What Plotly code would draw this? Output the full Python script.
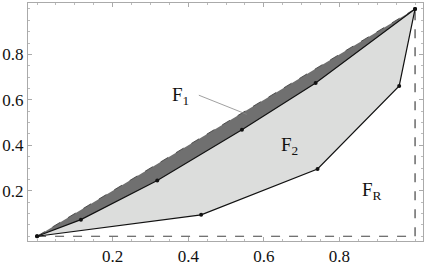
import plotly.graph_objects as go

# Data
mid_x = [0.0, 0.116, 0.318, 0.542, 0.737, 1.0]
mid_y = [0.0, 0.073, 0.245, 0.468, 0.674, 1.0]
low_x = [0.0, 0.434, 0.742, 0.958, 1.0]
low_y = [0.0, 0.094, 0.296, 0.661, 1.0]
diag_x = [0.0, 1.0]
diag_y = [0.0, 1.0]
box_x = [0.0, 1.0, 1.0]
box_y = [0.0, 0.0, 1.0]
tick_vals = [0.2, 0.4, 0.6, 0.8]
tick_text = ["0.2", "0.4", "0.6", "0.8"]
label_text = ["F<sub>1</sub>", "F<sub>2</sub>", "F<sub>R</sub>"]
label_x = [0.379, 0.668, 0.887]
label_y = [0.618, 0.395, 0.20]
pointer_x = 0.555
pointer_y = 0.536

SERIF = "Liberation Serif"

fig = go.Figure()

fig.add_trace(go.Scatter(x=low_x + mid_x[::-1], y=low_y + mid_y[::-1],
                         fill="toself", fillcolor="#dcdddc", mode="none",
                         hoverinfo="skip", showlegend=False))
fig.add_trace(go.Scatter(x=mid_x + diag_x[::-1], y=mid_y + diag_y[::-1],
                         fill="toself", fillcolor="#707070", mode="none",
                         hoverinfo="skip", showlegend=False))
fig.add_trace(go.Scatter(x=diag_x, y=diag_y, mode="lines",
                         line=dict(color="#333", width=0.8, dash="dash"),
                         showlegend=False))
fig.add_trace(go.Scatter(x=box_x, y=box_y, mode="lines",
                         line=dict(color="#444", width=1.2, dash="dash"),
                         showlegend=False))
fig.add_trace(go.Scatter(x=mid_x, y=mid_y, mode="lines+markers",
                         line=dict(color="#111", width=1.2),
                         marker=dict(color="#111", size=4),
                         showlegend=False))
fig.add_trace(go.Scatter(x=low_x, y=low_y, mode="lines+markers",
                         line=dict(color="#111", width=1.2),
                         marker=dict(color="#111", size=4),
                         showlegend=False))

for i, (t, lx, ly) in enumerate(zip(label_text, label_x, label_y)):
    if i == 0:
        fig.add_annotation(x=pointer_x, y=pointer_y, ax=lx + 0.045, ay=ly + 0.005,
                           axref="x", ayref="y", xref="x", yref="y",
                           showarrow=True, arrowhead=0, arrowwidth=0.8,
                           arrowcolor="#888", text="")
    fig.add_annotation(x=lx, y=ly, text=t, showarrow=False,
                       font=dict(family=SERIF, size=19, color="#111"))

for upd, rng in ((fig.update_xaxes, [-0.024, 1.021]), (fig.update_yaxes, [-0.021, 1.026])):
    upd(range=rng, showgrid=False, zeroline=False,
        showline=True, linecolor="#aaa", linewidth=1, mirror="ticks",
        ticks="inside", ticklen=4, tickcolor="#aaa",
        tickvals=tick_vals, ticktext=tick_text,
        tickfont=dict(family=SERIF, size=17, color="#111"),
        minor=dict(dtick=0.05, ticks="inside", ticklen=2, tickcolor="#bbb"))

fig.update_layout(width=426, height=268,
                  margin=dict(l=27, r=2, t=3, b=21),
                  font=dict(family=SERIF, size=17),
                  paper_bgcolor="white", plot_bgcolor="white")

fig.write_html("out.html")
